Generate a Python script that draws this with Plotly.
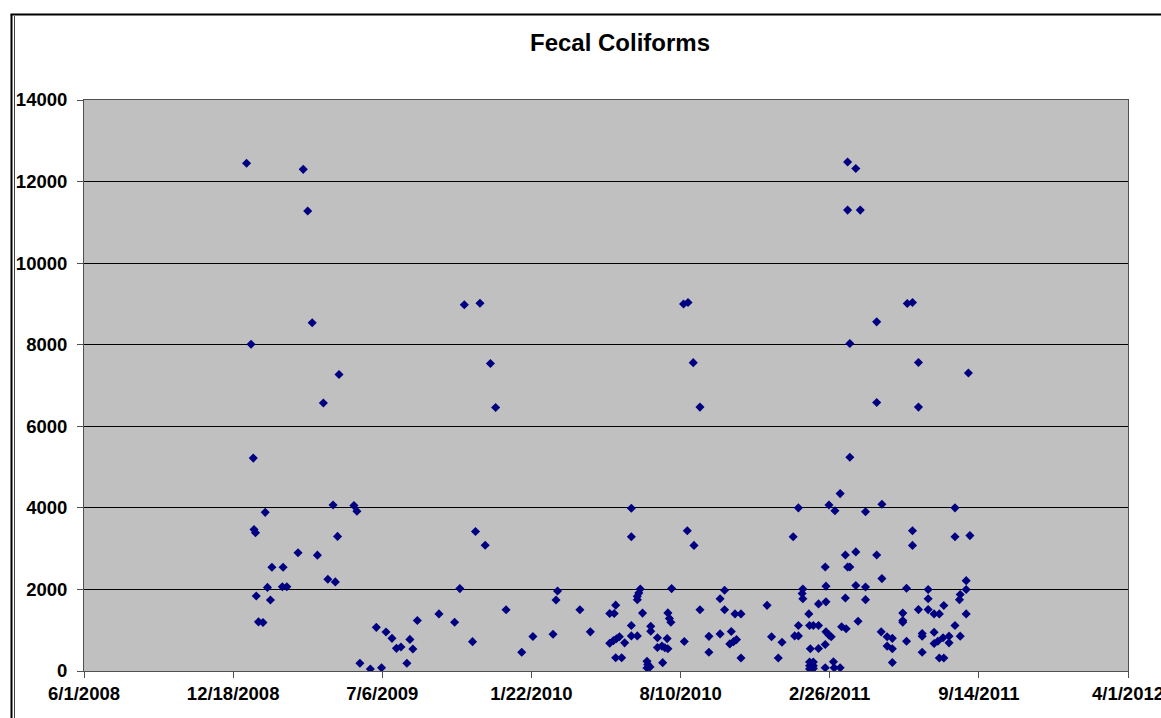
import pandas as pd
import plotly.graph_objects as go

# Sample dates as Excel serial day numbers
date_serial = [
    39818, 39824, 39827, 39828, 39830, 39831, 39834, 39840, 39843, 39846,
    39850, 39852, 39866, 39867, 39872, 39887, 39894, 39900, 39906, 39913,
    39921, 39927, 39934, 39937, 39940, 39942, 39962, 39966, 39970, 39984,
    39992, 39999, 40005, 40013, 40019, 40025, 40033, 40037, 40041, 40047,
    40076, 40097, 40104, 40110, 40121, 40125, 40131, 40138, 40145, 40152,
    40166, 40187, 40202, 40229, 40233, 40235, 40265, 40279, 40305, 40311,
    40313, 40305, 40310, 40314, 40318, 40313, 40321, 40325, 40334, 40334,
    40334, 40334, 40342, 40342, 40342, 40344, 40346, 40349, 40355, 40356,
    40359, 40355, 40360, 40360, 40369, 40369, 40375, 40376, 40379, 40382,
    40383, 40383, 40385, 40387, 40388, 40404, 40405, 40409, 40410, 40417,
    40418, 40426, 40426, 40438, 40438, 40453, 40453, 40459, 40459, 40466,
    40468, 40471, 40473, 40475, 40481, 40481,
    40516, 40522, 40531, 40536, 40551, 40553, 40558, 40558, 40558, 40564,
    40563, 40564, 40572, 40573, 40574, 40573, 40578, 40573, 40578, 40573,
    40578, 40578, 40585, 40585, 40585, 40594, 40594, 40594, 40595, 40595,
    40595, 40599, 40599, 40602, 40607, 40605, 40606, 40614, 40614, 40616,
    40621, 40621, 40622, 40624, 40624, 40624, 40627, 40627, 40627, 40635,
    40635, 40635, 40638, 40641, 40648, 40648, 40648, 40663, 40663, 40663,
    40670, 40670, 40669, 40677, 40684, 40677, 40684, 40684, 40698, 40698,
    40698, 40704, 40703, 40703, 40711, 40711, 40711, 40719, 40719, 40719,
    40724, 40724, 40724, 40732, 40732, 40732, 40740, 40740, 40740, 40745,
    40747, 40747, 40752, 40753, 40753, 40760, 40760, 40768, 40768, 40768,
    40775, 40774, 40775, 40783, 40783, 40783, 40786, 40788,
]

fecal_coliforms = [
    12450, 8010, 5220, 3470, 3390, 1840, 1205, 1190, 3890, 2050,
    1740, 2545, 2065, 2545, 2065, 2900, 12300, 11280, 8540, 2840,
    6570, 2250, 4070, 2185, 3300, 7270, 4055, 3915, 190, 50,
    1070, 80, 955, 800, 555, 590, 190, 775, 540, 1240,
    1400, 1195, 2020, 8980, 720, 3420, 9015, 3085, 7540, 6460,
    1500, 460, 845, 900, 1740, 1960, 1500, 960, 1410, 1410,
    1615, 680, 745, 790, 840, 325, 325, 690, 3990, 3290,
    1115, 860, 860, 1750, 1830, 1915, 2010, 1420, 240, 160,
    100, 75, 1095, 975, 815, 575, 610, 205, 570, 795,
    545, 1425, 1290, 1195, 2020, 9000, 725, 3440, 9035, 7560,
    3080, 6470, 1500, 850, 460, 1770, 910, 1980, 1500, 665,
    970, 720, 1400, 770, 1400, 320,
    1610, 840, 320, 705, 3290, 860, 4000, 1115, 860, 2010,
    1900, 1770, 1400, 1115, 545, 220, 220, 130, 130, 50,
    60, 1115, 1645, 1115, 550, 2550, 650, 80, 2080, 1695,
    960, 4070, 880, 840, 3930, 225, 80, 4350, 80, 1085,
    2845, 1790, 1035, 12480, 11300, 2550, 8030, 5240, 2550, 12320,
    2920, 2095, 1220, 11300, 3905, 2060, 1750, 8560, 6585, 2845,
    4090, 2265, 960, 840, 800, 610, 545, 210, 1420, 1240,
    1195, 9010, 2030, 730, 9035, 3440, 3080, 7565, 6470, 1505,
    920, 855, 460, 2000, 1770, 1505, 1400, 950, 675, 730,
    1400, 320, 815, 1605, 320, 855, 690, 4000, 3290, 1115,
    1875, 1750, 855, 2215, 2000, 1400, 7305, 3320,
]

x_tick_dates = ["2008-06-01", "2008-12-18", "2009-07-06", "2010-01-22",
                "2010-08-10", "2011-02-26", "2011-09-14", "2012-04-01"]
x_tick_labels = ["6/1/2008", "12/18/2008", "7/6/2009", "1/22/2010",
                 "8/10/2010", "2/26/2011", "9/14/2011", "4/1/2012"]
y_tick_values = [0, 2000, 4000, 6000, 8000, 10000, 12000, 14000]

dates = pd.to_datetime(pd.Series(date_serial), unit="D", origin="1899-12-30")

FONT = "Liberation Sans, Arial, sans-serif"

fig = go.Figure()
fig.add_trace(go.Scatter(
    x=dates, y=fecal_coliforms, mode="markers",
    marker=dict(symbol="diamond", size=7, color="#000080",
                line=dict(width=0)),
    showlegend=False, hoverinfo="x+y",
))

W, H = 1161, 718
L, R, T, B = 84, 33, 100, 47
pw, ph = W - L - R, H - T - B

def px_x(p):
    return (p - L) / pw

def px_y(p):
    return (H - B - p) / ph

fig.update_layout(
    width=W, height=H,
    margin=dict(l=L, r=R, t=T, b=B, pad=0, autoexpand=False),
    paper_bgcolor="white",
    plot_bgcolor="#C0C0C0",
    font=dict(family=FONT, color="black"),
    title=dict(text="<b>Fecal Coliforms</b>", x=px_x(620), xref="paper",
               xanchor="center", y=1 - 43 / H, yanchor="middle",
               font=dict(family=FONT, size=24, color="black")),
    xaxis=dict(
        type="date",
        range=[x_tick_dates[0], "2012-04-01 00:05"],
        tickmode="array", tickvals=x_tick_dates, ticktext=x_tick_labels,
        showgrid=False, zeroline=False, automargin=False,
        showline=True, linecolor="#505050", linewidth=1, mirror=True,
        ticks="outside", ticklen=6, tickcolor="#505050",
        ticklabeloverflow="allow",
        tickfont=dict(family=FONT, size=18.5, color="black", weight="bold"),
    ),
    yaxis=dict(
        range=[0, 14000], automargin=False,
        tickmode="array", tickvals=y_tick_values,
        ticktext=[str(v) for v in y_tick_values],
        showgrid=True, gridcolor="black", gridwidth=1, zeroline=False,
        showline=True, linecolor="#505050", linewidth=1, mirror=True,
        ticks="outside", ticklen=6, tickcolor="#505050",
        ticklabelstandoff=6,
        tickfont=dict(family=FONT, size=18.5, color="black", weight="bold"),
    ),
    shapes=[
        # outer chart-area frame (left double line and top line)
        dict(type="line", xref="paper", yref="paper",
             x0=px_x(11.5), x1=px_x(11.5), y0=px_y(14.5), y1=px_y(730),
             line=dict(color="black", width=2)),
        dict(type="line", xref="paper", yref="paper",
             x0=px_x(14.5), x1=px_x(14.5), y0=px_y(16), y1=px_y(730),
             line=dict(color="#404040", width=1)),
        dict(type="line", xref="paper", yref="paper",
             x0=px_x(10.5), x1=px_x(1170), y0=px_y(14.5), y1=px_y(14.5),
             line=dict(color="black", width=2)),
    ],
)

fig.write_html("out.html")
